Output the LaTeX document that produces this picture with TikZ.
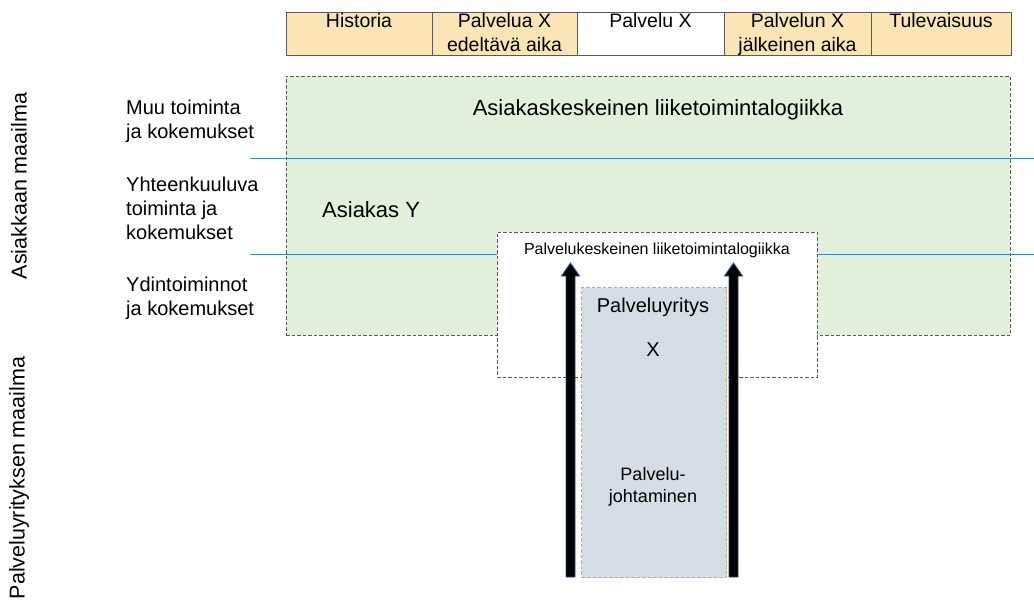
\documentclass[tikz,border=0pt]{standalone}
\usepackage{fontspec}
\setmainfont{Liberation Sans}
\usetikzlibrary{calc}
\definecolor{hdrfill}{HTML}{FBE5B7}
\definecolor{custgreen}{HTML}{E2EFDA}
\definecolor{svcgray}{HTML}{D6DCE5}
\definecolor{golddash}{HTML}{CDAE5E}
\definecolor{lineblue}{HTML}{4F7DB8}
\definecolor{dashgray}{HTML}{595959}
\definecolor{arrowblue}{HTML}{2F4C7A}
\begin{document}
\begin{tikzpicture}[x=1pt,y=-1pt,
  hcell/.style={draw=dashgray, line width=0.8pt, anchor=north west, minimum height=43pt, inner sep=0pt, outer sep=0pt},
  htext/.style={anchor=north, align=center, inner sep=0pt, font=\fontsize{19.5}{24}\selectfont},
  rowlbl/.style={anchor=north west, align=left, inner sep=0pt, font=\fontsize{20}{24}\selectfont},
  world/.style={rotate=90, inner sep=0pt, font=\fontsize{21.5}{26}\selectfont},
  dashbox/.style={draw=dashgray, dash pattern=on 3.5pt off 2pt, line width=1pt, anchor=north west, inner sep=0pt, outer sep=0pt},
  bigtxt/.style={inner sep=0pt, font=\fontsize{22}{26}\selectfont},
  midtxt/.style={inner sep=0pt, align=center, font=\fontsize{20}{24}\selectfont},
  sepline/.style={draw=lineblue, line width=0.9pt},
  bigarrow/.style={fill=black, draw=arrowblue, line width=0.9pt, line join=miter}
]
\useasboundingbox (0,0) rectangle (1034,605);
\fill[white] (0,0) rectangle (1034,605);

% header
\node[hcell, fill=hdrfill, minimum width=146pt] (h1) at (286,12) {};
\node[hcell, fill=hdrfill, minimum width=145pt] (h2) at (432,12) {};
\node[hcell, fill=white, minimum width=147pt] (h3) at (577,12) {};
\node[hcell, fill=hdrfill, minimum width=147pt] (h4) at (724,12) {};
\node[hcell, fill=hdrfill, minimum width=140pt] (h5) at (871,12) {};
\node[htext] (ht1) at (h1.north |- 0,13) {Historia};
\node[htext] (ht2) at (h2.north |- 0,13) {Palvelua X\\edeltävä aika};
\node[htext] (ht3) at (h3.north |- 0,13) {Palvelu X};
\node[htext] (ht4) at (h4.north |- 0,13) {Palvelun X\\jälkeinen aika};
\node[htext] (ht5) at (h5.north |- 0,13) {Tulevaisuus};

% customer area
\node[dashbox, fill=custgreen, minimum width=724pt, minimum height=259pt] (cust) at (286,76) {};

% separator lines
\coordinate (l1a) at (250,158);
\coordinate (l1b) at (1034,158);
\coordinate (l2a) at (250,254);
\coordinate (l2b) at (1034,254);
\draw[sepline] (l1a) -- (l1b);
\draw[sepline] (l2a) -- (l2b);

% service logic box
\node[dashbox, fill=white, minimum width=320pt, minimum height=145pt] (svc) at (497,232) {};
% service company box
\node[draw=golddash, dash pattern=on 3.5pt off 2pt, line width=1pt, fill=svcgray, anchor=north west, inner sep=0pt, minimum width=145pt, minimum height=290pt] (comp) at (581,287) {};

% arrows
\coordinate (a1s) at (570.5,577);
\coordinate (a1e) at (570.5,263);
\coordinate (a2s) at (733.5,577);
\coordinate (a2e) at (733.5,263);
\foreach \s/\e in {a1s/a1e, a2s/a2e}{
  \filldraw[bigarrow] ($(\s)+(-4.5,0)$) -- ($(\e)+(-4.5,13)$) -- ($(\e)+(-9,13)$) -- (\e)
     -- ($(\e)+(9,13)$) -- ($(\e)+(4.5,13)$) -- ($(\s)+(4.5,0)$) -- cycle;
}

% texts
\node[world] (w1) at (19,186) {Asiakkaan maailma};
\node[world] (w2) at (19,478) {Palveluyrityksen maailma};

\node[rowlbl] (r1) at (126,100) {Muu toiminta\\ja kokemukset};
\node[rowlbl] (r2) at (126,176.5) {Yhteenkuuluva\\toiminta ja\\kokemukset};
\node[rowlbl] (r3) at (126,276.5) {Ydintoiminnot\\ja kokemukset};

\node[bigtxt] (clog) at (658,110) {Asiakaskeskeinen liiketoimintalogiikka};
\node[bigtxt, anchor=west] (custy) at (322,210) {Asiakas Y};
\node[inner sep=0pt, font=\fontsize{16}{19}\selectfont] (slog) at (657,250) {Palvelukeskeinen liiketoimintalogiikka};
\node[midtxt] (pyr) at (653,307) {Palveluyritys};
\node[midtxt] (px) at (653,350) {X};
\node[inner sep=0pt, align=center, font=\fontsize{18}{21.5}\selectfont] (pjoh) at (653,487) {Palvelu-\\johtaminen};
\end{tikzpicture}
\end{document}
